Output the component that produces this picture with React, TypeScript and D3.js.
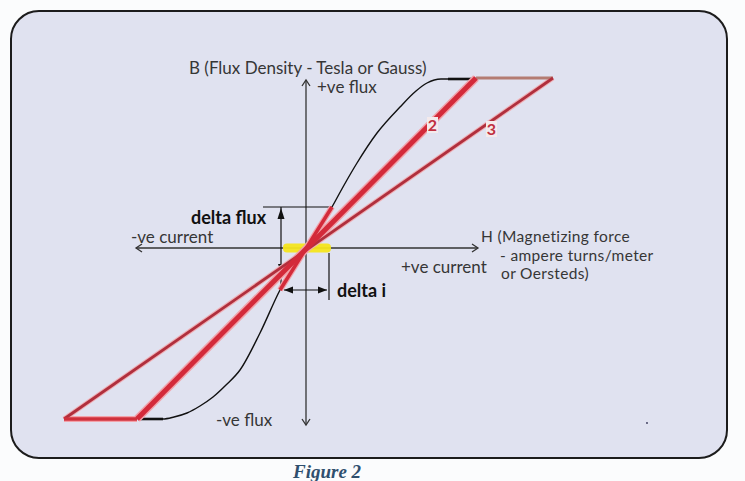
import * as d3 from 'd3';

// B-H curve (H, B) in drawing units, origin at centre
const curveH = [-166, -143, -132, -119, -106, -93, -80, -66, -46, -26, 0, 26, 37, 51, 71, 94, 110, 121, 135, 142];
const curveB = [-171, -171, -169, -165, -158, -149, -137, -122, -85, -42, 0, 41, 61, 85, 115, 141, 157, 165, 169, 169];
const flatTop = [[142, 169], [170, 169]];
const flatBottom = [[-143, -171], [-166, -171]];

// red permeability lines: [H0, B0, H1, B1]
const line2 = [170, 170, -169, -171];
const line3 = [247, 170, -242, -171];
const tangent = [26, 41, -26, -42];
const capTop = [170, 170, 247, 170];
const capBottom = [-242, -171, -169, -171];

const deltaFlux = { h: -25, h0: -43, h1: 26, b0: 41, b1: -40 };
const deltaI = { b: -42, h0: -22, h1: 22, bt: -5, bb: -52 };

const hLabel = ['H (Magnetizing force', '- ampere turns/meter', 'or Oersteds)'];

const W = 745;
const H = 481;

export default function App() {
  const x = d3.scaleLinear().domain([-250, 250]).range([56, 556]);
  const y = d3.scaleLinear().domain([-170, 170]).range([418, 78]);
  const curvePts: [number, number][] = curveH.map((h, i) => [h, curveB[i]]);
  const lineGen = d3.line<[number, number]>().x(d => x(d[0])).y(d => y(d[1])).curve(d3.curveMonotoneX);
  const seg = (s: number[]) => ({ x1: x(s[0]), y1: y(s[1]), x2: x(s[2]), y2: y(s[3]) });

  const x0 = x(0), y0 = y(0);
  const font = 'Lato, sans-serif';
  const txt = '#363636';

  // filled arrowhead helper
  const head = (px: number, py: number, dir: 'up' | 'down' | 'left' | 'right', len = 9, half = 3.5) => {
    const p = { up: [[px, py], [px - half, py + len], [px + half, py + len]],
      down: [[px, py], [px - half, py - len], [px + half, py - len]],
      left: [[px, py], [px + len, py - half], [px + len, py + half]],
      right: [[px, py], [px - len, py - half], [px - len, py + half]] }[dir];
    return <polygon points={p.map(q => q.join(',')).join(' ')} fill="#111" />;
  };

  const vTop = y(168), vBot = y(-177), hLeft = x(-170), hRight = x(172);

  return (
    <svg width={W} height={H} style={{ position: 'absolute', left: 0, top: 0 }}>
      <rect x={0} y={0} width={W} height={H} fill="#fbfcfd" />
      <rect x={11} y={11} width={716} height={447} rx={28} fill="#e0e2f0" stroke="#1c1c1c" strokeWidth={2} />

      {/* axes */}
      <g stroke="#333" strokeWidth={1.3} fill="none">
        <line x1={x0} y1={vTop} x2={x0} y2={vBot} />
        <polyline points={`${x0 - 4},${vTop + 6} ${x0},${vTop} ${x0 + 4},${vTop + 6}`} />
        <polyline points={`${x0 - 4},${vBot - 6} ${x0},${vBot} ${x0 + 4},${vBot - 6}`} />
        <line x1={hLeft} y1={y0} x2={hRight} y2={y0} />
        <polyline points={`${hLeft + 6},${y0 - 4} ${hLeft},${y0} ${hLeft + 6},${y0 + 4}`} />
        <polyline points={`${hRight - 6},${y0 - 4} ${hRight},${y0} ${hRight - 6},${y0 + 4}`} />
      </g>

      {/* yellow operating region */}
      <rect x={283} y={243.5} width={48} height={9} rx={4} fill="#f4e51c" opacity={0.95} />

      {/* B-H curve */}
      <path d={lineGen(curvePts) ?? ''} fill="none" stroke="#111" strokeWidth={1.4} />
      <path d={d3.line()(flatTop.map(d => [x(d[0]), y(d[1])]) as [number, number][]) ?? ''} stroke="#111" strokeWidth={2.6} />
      <path d={d3.line()(flatBottom.map(d => [x(d[0]), y(d[1])]) as [number, number][]) ?? ''} stroke="#111" strokeWidth={2.6} />

      {/* delta flux / delta i construction */}
      <g stroke="#111" strokeWidth={1.2}>
        <line x1={x(deltaFlux.h0)} y1={y(deltaFlux.b0)} x2={x(deltaFlux.h1)} y2={y(deltaFlux.b0)} />
        <line x1={x(deltaFlux.h)} y1={y(deltaFlux.b0)} x2={x(deltaFlux.h)} y2={y(deltaFlux.b1)} />
        <line x1={x(deltaI.h1) + 1} y1={y(deltaI.bt)} x2={x(deltaI.h1) + 1} y2={y(deltaI.bb)} />
        <line x1={x(deltaI.h0)} y1={y(deltaI.b)} x2={x(deltaI.h1) - 1} y2={y(deltaI.b)} />
      </g>
      {head(x(deltaFlux.h), y(deltaFlux.b0) + 1, 'up', 11, 3.5)}
      {head(x(deltaFlux.h), y(-24), 'down', 8, 3)}
      {head(x(deltaI.h0), y(deltaI.b), 'left', 9, 3.5)}
      {head(x(deltaI.h1) - 1, y(deltaI.b), 'right', 9, 3.5)}

      {/* red lines with pink halo */}
      <g strokeLinecap="butt">
        <line {...seg(line3)} stroke="#efb0b6" strokeWidth={5} />
        <line {...seg(line2)} stroke="#f2a2aa" strokeWidth={8} />
        <line {...seg(tangent)} stroke="#f2a2aa" strokeWidth={6} />
        <line {...seg(capBottom)} stroke="#f2a2aa" strokeWidth={6} />
        <line {...seg(capTop)} stroke="#b47c72" strokeWidth={3} />
        <line {...seg(line3)} stroke="#b02f3d" strokeWidth={2.8} />
        <line {...seg(line2)} stroke="#d32a3a" strokeWidth={5} />
        <line {...seg(tangent)} stroke="#d32a3a" strokeWidth={3.5} />
        <line {...seg(capBottom)} stroke="#d0303c" strokeWidth={3.5} />
      </g>

      {/* line numbers */}
      <rect x={427} y={117} width={11} height={16} fill="#f4eaec" />
      <text x={432.5} y={131} textAnchor="middle" fontFamily={font} fontWeight="bold" fontSize={16} fill="#c0303f">2</text>
      <rect x={486} y={121} width={11} height={16} fill="#f4eaec" />
      <text x={491.5} y={135} textAnchor="middle" fontFamily={font} fontWeight="bold" fontSize={16} fill="#c0303f">3</text>

      {/* labels */}
      <g fontFamily={font} fontSize={17} fill={txt}>
        <text x={189} y={74}>B (Flux Density - Tesla or Gauss)</text>
        <text x={317} y={93}>+ve flux</text>
        <text x={131} y={243}>-ve current</text>
        <text x={401} y={273}>+ve current</text>
        <text x={216} y={426}>-ve flux</text>
      </g>
      <g fontFamily={font} fontSize={15.5} letterSpacing={0.35} fill={txt}>
        <text x={481} y={242}>{hLabel[0]}</text>
        <text x={500} y={260.5}>{hLabel[1]}</text>
        <text x={501} y={279}>{hLabel[2]}</text>
      </g>
      <text x={191} y={224} fontFamily={font} fontWeight="bold" fontSize={18} fill="#111">delta flux</text>
      <text x={337} y={297} fontFamily={font} fontWeight="bold" fontSize={18} fill="#111">delta i</text>
      <circle cx={647} cy={423} r={0.9} fill="#335" />

      <text x={293} y={478} fontFamily="'Liberation Serif', serif" fontStyle="italic" fontWeight="bold" fontSize={19} fill="#2f4f6e">Figure 2</text>
    </svg>
  );
}
